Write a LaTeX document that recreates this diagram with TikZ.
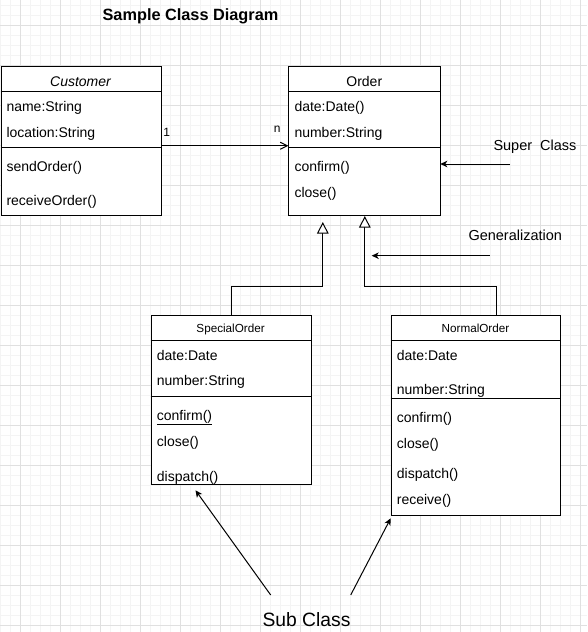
\documentclass[tikz,border=0pt]{standalone}
\usepackage{fontspec}
\setmainfont{Liberation Sans}
\usetikzlibrary{arrows.meta,calc}

\definecolor{gridminor}{RGB}{244,244,244}
\definecolor{gridmajor}{RGB}{224,224,224}

\begin{document}
\begin{tikzpicture}[x=1pt,y=-1pt,
  classbox/.style={draw, line width=1pt, fill=white, inner sep=0pt, anchor=north west},
  member/.style={anchor=base west, inner sep=0pt, font=\fontsize{14}{16}\selectfont},
  classname/.style={anchor=base, inner sep=0pt, font=\fontsize{14}{16}\selectfont},
  subname/.style={anchor=base, inner sep=0pt, font=\fontsize{11.7}{14}\selectfont},
  note/.style={anchor=base west, inner sep=0pt, font=\fontsize{14.5}{17}\selectfont},
  mult/.style={anchor=base, inner sep=0pt, font=\fontsize{12}{14}\selectfont},
  divider/.style={line width=1pt},
  assoc/.style={line width=1pt, -{Straight Barb[length=7pt,width=7pt]}},
  inherit/.style={line width=1pt, -{Triangle[open,length=11.5pt,width=11.5pt,fill=white]}},
  pointer/.style={line width=1pt, -{Stealth[length=7pt,width=6.5pt,inset=2pt]}},
]
\useasboundingbox (0,0) rectangle (587,632);

% background grid
\fill[white] (0,0) rectangle (587,632);
\foreach \x in {0,10,...,580} \draw[gridminor, line width=1pt] (\x,0) -- (\x,632);
\foreach \y in {5,15,...,625} \draw[gridminor, line width=1pt] (0,\y) -- (587,\y);
\foreach \x in {20,60,...,580} \draw[gridmajor, line width=1pt] (\x,0) -- (\x,632);
\foreach \y in {25,65,...,625} \draw[gridmajor, line width=1pt] (0,\y) -- (587,\y);

% title
\node[anchor=base, inner sep=0pt, font=\bfseries\fontsize{16.3}{20}\selectfont] (title) at (190.5,20.7) {Sample Class Diagram};

% class Customer
\node[classbox, minimum width=160, minimum height=149.5] (customer) at (0.5,65.5) {};
\draw[divider] (customer.west |- 0,91.5) -- (customer.east |- 0,91.5);
\draw[divider] (customer.west |- 0,147) -- (customer.east |- 0,147);
\node[classname, font=\itshape\fontsize{14}{16}\selectfont] (cust-name) at (80.5,86) {Customer};
\node[member] (cust-a1) at (6.3,111.5) {name:String};
\node[member] (cust-a2) at (6.3,137.5) {location:String};
\node[member] (cust-m1) at (6.3,171) {sendOrder()};
\node[member] (cust-m2) at (6.3,205) {receiveOrder()};

% class Order
\node[classbox, minimum width=152, minimum height=149.5] (order) at (288.3,65.5) {};
\draw[divider] (order.west |- 0,91.5) -- (order.east |- 0,91.5);
\draw[divider] (order.west |- 0,147) -- (order.east |- 0,147);
\node[classname] (order-name) at (364.3,86) {Order};
\node[member] (order-a1) at (294.3,111) {date:Date()};
\node[member] (order-a2) at (294.3,137) {number:String};
\node[member] (order-m1) at (294.3,171.5) {confirm()};
\node[member] (order-m2) at (294.3,197) {close()};

% class SpecialOrder
\node[classbox, minimum width=159.8, minimum height=169.3] (special) at (150.7,314.7) {};
\draw[divider] (special.west |- 0,340.7) -- (special.east |- 0,340.7);
\draw[divider] (special.west |- 0,396.7) -- (special.east |- 0,396.7);
\node[subname] (special-name) at (230.6,332) {SpecialOrder};
\node[member] (special-a1) at (156.7,360) {date:Date};
\node[member] (special-a2) at (156.7,385.3) {number:String};
\node[member] (special-m1) at (156.7,420) {\underline{confirm()}};
\node[member] (special-m2) at (156.7,446.7) {close()};
\node[member] (special-m3) at (156.7,481) {dispatch()};

% class NormalOrder
\node[classbox, minimum width=169.6, minimum height=200.3] (normal) at (390.7,314.7) {};
\draw[divider] (normal.west |- 0,340.7) -- (normal.east |- 0,340.7);
\draw[divider] (normal.west |- 0,398.7) -- (normal.east |- 0,398.7);
\node[subname] (normal-name) at (475.5,332) {NormalOrder};
\node[member] (normal-a1) at (396.7,360) {date:Date};
\node[member] (normal-a2) at (396.7,394.3) {number:String};
\node[member] (normal-m1) at (396.7,422.7) {confirm()};
\node[member] (normal-m2) at (396.7,448.3) {close()};
\node[member] (normal-m3) at (396.7,478.3) {dispatch()};
\node[member] (normal-m4) at (396.7,504) {receive()};

% association Customer -> Order
\draw[assoc] ([yshift=-5pt]customer.east) -- ([yshift=-5pt]order.west);
\node[mult] (mult-one) at (166.7,136.7) {1};
\node[mult] (mult-n) at (277.3,132.7) {n};

% generalization connectors
\draw[inherit] (special.north) |- ([xshift=-42pt,yshift=-70.7pt]order.south)
  -- ([xshift=-42pt,yshift=-6pt]order.south);
\draw[inherit] ([xshift=20.5pt]normal.north) |- ([yshift=-70.7pt]order.south)
  -- (order.south);

% annotations
\node[note] (super-label) at (493.3,150.7) {Super\ \ Class};
\coordinate (superTail) at (510,164);
\draw[pointer, shorten >=-1pt] (superTail) -- (superTail -| order.east);

\node[note] (gen-label) at (468.3,240.3) {Generalization};
\coordinate (genTail) at (490,255.7);
\coordinate (genHead) at (371.7,255.7);
\draw[pointer] (genTail) -- (genHead);

\node[anchor=base, inner sep=0pt, font=\fontsize{19.3}{23}\selectfont] (sub-label) at (306.5,626) {Sub Class};
\coordinate (subTailL) at (270.7,595);
\coordinate (subTailR) at (350.7,595);
\draw[pointer] (subTailL) -- ([xshift=-35.6pt,yshift=-5.3pt]special.south);
\draw[pointer] (subTailR) -- ([yshift=-2.3pt]normal.south west);

\end{tikzpicture}
\end{document}
